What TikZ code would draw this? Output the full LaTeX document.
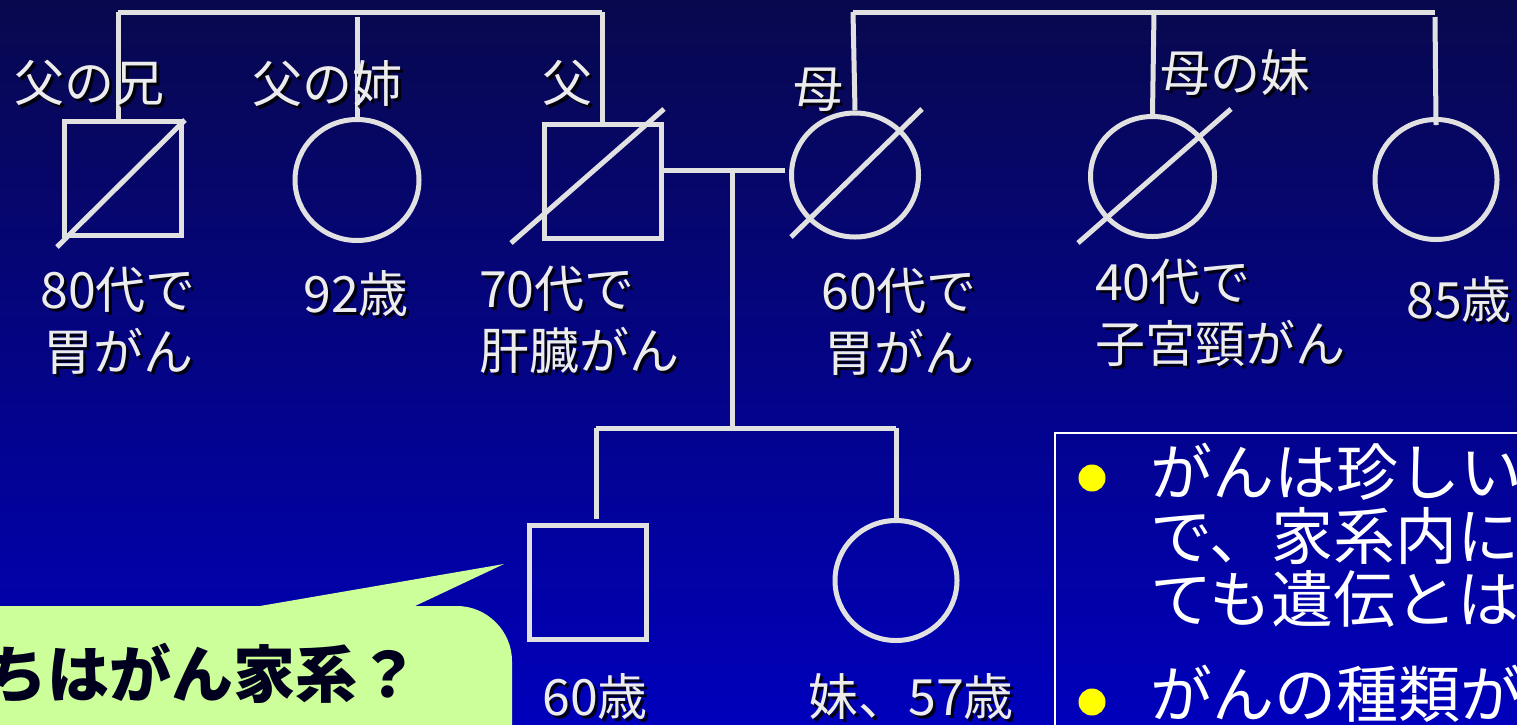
\documentclass[tikz,border=0pt]{standalone}
\usepackage{fontspec}
\setmainfont{Noto Sans CJK JP}
\usetikzlibrary{shapes.geometric}
\definecolor{bgtop}{RGB}{8,8,78}
\definecolor{bgbot}{RGB}{0,0,188}
\definecolor{plc}{RGB}{225,225,225}
\definecolor{labc}{RGB}{236,236,236}
\definecolor{callg}{RGB}{204,255,153}
\definecolor{calltxt}{RGB}{0,0,30}
\definecolor{bul}{RGB}{255,255,0}
\newcommand\plabel[4]{%
  \node[labshadow,#1] at ([shift={(3,3)}]#3) {#4};
  \node[lab,#1] (#2) at (#3) {#4};}
\begin{document}
\begin{tikzpicture}[x=1pt,y=-1pt,
  pl/.style={draw=plc, line width=5pt},
  sq/.style={rectangle, pl, inner sep=0pt, minimum width=117pt, minimum height=114pt},
  cir/.style={ellipse, pl, inner sep=0pt, minimum width=#1},
  lab/.style={text=labc, inner sep=0pt, align=center, font=\fontsize{50}{62}\selectfont},
  labshadow/.style={text=black, text opacity=0.85, inner sep=0pt, align=center, font=\fontsize{50}{62}\selectfont},
  btxt/.style={text=white, inner sep=0pt, anchor=west, font=\fontsize{62}{63}\selectfont},
  dot/.style={circle, fill=bul, inner sep=0pt, minimum size=27pt}]
\useasboundingbox (0,0) rectangle (1517,724);
\clip (0,0) rectangle (1517,724);
\shade[top color=bgtop, bottom color=bgbot] (0,0) rectangle (1517,724);

% father's sibship
\node[sq] (fb) at (123,178) {};
\node[ellipse, pl, inner sep=0pt, minimum width=124pt, minimum height=121pt] (fs) at (357,180) {};
\node[sq] (f) at (603,181.5) {};
\draw[pl] (57,247) -- (185,120);
\draw[pl] (511,243) -- (664,109);
\coordinate (fl) at (118,12);
\coordinate (fm) at (357,17);
\coordinate (fr) at (602,12);
\draw[pl] (fl) -- (fr);
\draw[pl] (fl) -- (fl |- fb.north);
\draw[pl] (fm) -- (fs.north);
\draw[pl] (fr) -- ([yshift=-2pt]fr |- f.north);

% mother's sibship
\node[ellipse, pl, inner sep=0pt, minimum width=127pt, minimum height=124pt] (m) at (855,175) {};
\node[ellipse, pl, inner sep=0pt, minimum width=124pt, minimum height=120pt] (ma) at (1152.5,176.5) {};
\node[ellipse, pl, inner sep=0pt, minimum width=122pt, minimum height=120pt] (mb) at (1436,179.5) {};
\draw[pl] (791,237) -- (922,109);
\draw[pl] (1078,243) -- (1231,109);
\coordinate (ml) at (853,12);
\coordinate (mm) at (1154,12);
\coordinate (mr) at (1435,12);
\draw[pl] (ml) -- (mr);
\draw[pl] (ml) -- (m.north);
\draw[pl] (mm) -- (ma.north);
\draw[pl] (1435,17) -- ([yshift=-8pt]mb.north);

% marriage and children
\coordinate (mh) at (732,170);
\coordinate (sm) at (732,428);
\coordinate (sl) at (596,428);
\coordinate (sr) at (896,428);
\draw[pl] (f.east |- mh) -- (785,170);
\draw[pl] (mh) -- (sm);
\draw[pl] (sl) -- (sr);
\node[sq] (son) at (587.5,582.5) {};
\node[ellipse, pl, inner sep=0pt, minimum width=122pt, minimum height=120pt] (dau) at (896,580.5) {};
\draw[pl] (sl) -- (596,519);
\draw[pl] (sr) -- (896,518);

% labels
\plabel{}{l1}{89,83}{父の兄}
\plabel{}{l2}{327,84}{父の姉}
\plabel{}{l3}{567,83}{父}
\plabel{}{l4}{818,90}{母}
\plabel{}{l5}{1235,73}{母の妹}
\plabel{}{a1}{118,321}{80代で\\胃がん}
\plabel{}{a2}{356,294}{92歳}
\plabel{anchor=west,align=left}{a3}{479,320}{70代で\\肝臓がん}
\plabel{}{a4}{899,322}{60代で\\胃がん}
\plabel{anchor=west,align=left}{a5}{1095,313}{40代で\\子宮頸がん}
\plabel{}{a6}{1459,300}{85歳}
\plabel{}{a7}{595,697}{60歳}
\plabel{}{a8}{911,697}{妹、57歳}

% callout
\coordinate (tip) at (504,564);
\fill[callg] (-20,606) -- (260,606) -- (tip) -- (415,606) -- (457,606)
  .. controls (487,606) and (512,631) .. (512,661) -- (512,760) -- (-20,760) -- cycle;
\node[anchor=east, inner sep=0pt, text=calltxt, font=\fontsize{62}{62}\selectfont\bfseries] (ct) at (420,673) {ちはがん家系？};

% bullet box
\draw[white, line width=1.5pt] (1055,433) rectangle (1560,780);
\node[dot] (d1) at (1092,478) {};
\node[dot] (d2) at (1092,702) {};
\node[btxt] (b1) at (1150,471.5) {がんは珍しい};
\node[btxt] (b2) at (1150,536) {で、家系内に};
\node[btxt] (b3) at (1150,598.5) {ても遺伝とは};
\node[btxt] (b4) at (1150,694) {がんの種類が};
\end{tikzpicture}
\end{document}
